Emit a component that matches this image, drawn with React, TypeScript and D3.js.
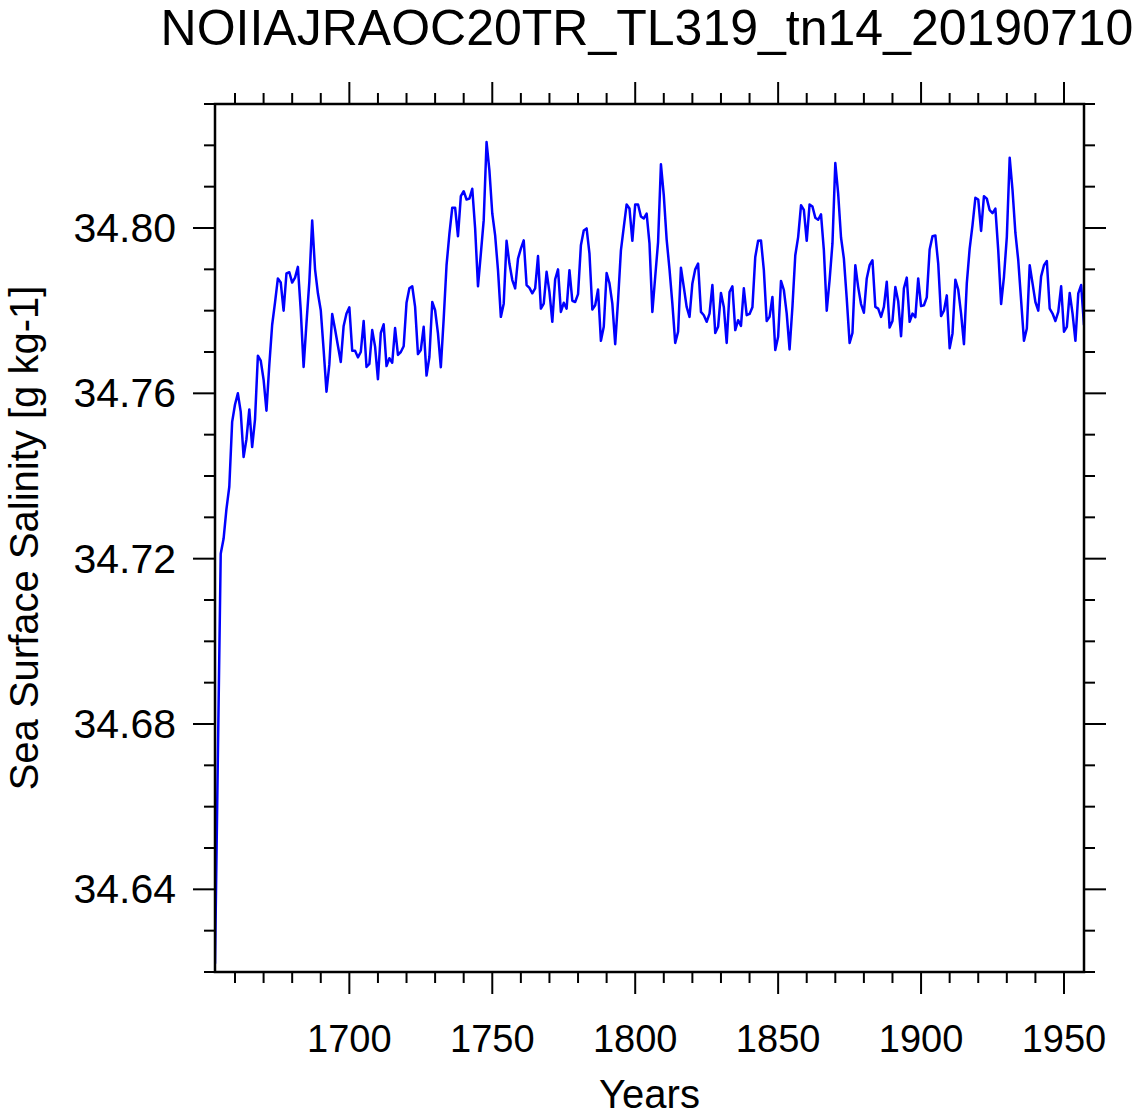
import React from 'react';
import * as d3 from 'd3';

// sea surface salinity, one value per model year starting at 1653
const startYear = 1653;
const salinity = [
  34.622, 34.672, 34.7212, 34.7248, 34.732, 34.7374, 34.7531,
  34.7573, 34.760, 34.7555, 34.7446, 34.7489, 34.7561, 34.747, 34.7537, 34.7691, 34.7679,
  34.7633, 34.7558, 34.7669, 34.7766, 34.782, 34.7878, 34.7868, 34.780, 34.789, 34.7893,
  34.7868, 34.788, 34.7906, 34.780, 34.7664, 34.777, 34.787, 34.8018, 34.790, 34.7842,
  34.7801, 34.7705, 34.7604, 34.767, 34.7792, 34.7755, 34.7715, 34.7676, 34.7763, 34.7793,
  34.7808, 34.7703, 34.7703, 34.7687, 34.770, 34.7775, 34.7664, 34.7671, 34.7753, 34.7713,
  34.7634, 34.7746, 34.7767, 34.7666, 34.7685, 34.7674, 34.7758, 34.7693, 34.770, 34.7714,
  34.7819, 34.7854, 34.7859, 34.7809, 34.7695, 34.7705, 34.7761, 34.7643, 34.7688, 34.7821,
  34.7801, 34.7745, 34.7663, 34.778, 34.791, 34.7986, 34.8049, 34.8049, 34.798, 34.8077,
  34.8089, 34.8069, 34.8071, 34.8095, 34.7999, 34.7859, 34.7938, 34.8019, 34.8208, 34.8139,
  34.8035, 34.7982, 34.7898, 34.7785, 34.7817, 34.7969, 34.7914, 34.7874, 34.7854, 34.7926,
  34.795, 34.797, 34.7862, 34.7855, 34.7842, 34.7854, 34.7932, 34.7805, 34.7817, 34.7894,
  34.7845, 34.7773, 34.7876, 34.790, 34.7797, 34.7819, 34.7805, 34.7898, 34.7824, 34.7821,
  34.784, 34.7958, 34.7994, 34.7999, 34.7938, 34.7803, 34.7813, 34.7851, 34.7727, 34.7761,
  34.7891, 34.7866, 34.7817, 34.7719, 34.7825, 34.7946, 34.8002, 34.8057, 34.8047, 34.7969,
  34.8057, 34.8057, 34.8028, 34.8023, 34.8035, 34.7962, 34.7797, 34.7882, 34.7966, 34.8154,
  34.8079, 34.7972, 34.790, 34.7817, 34.7722, 34.7749, 34.7904, 34.7857, 34.7809, 34.7785,
  34.7866, 34.790, 34.7914, 34.7797, 34.7789, 34.7773, 34.7793, 34.7862, 34.7746, 34.7761,
  34.7843, 34.7809, 34.7722, 34.7845, 34.7859, 34.7753, 34.7777, 34.7763, 34.7854, 34.7789,
  34.7792, 34.7808, 34.793, 34.7969, 34.797, 34.7898, 34.7775, 34.7785, 34.7833, 34.7705,
  34.7737, 34.7872, 34.785, 34.7793, 34.7706, 34.7809, 34.7934, 34.7978, 34.8055, 34.8044,
  34.7969, 34.8057, 34.8052, 34.8025, 34.802, 34.8033, 34.7946, 34.780, 34.7874, 34.7962,
  34.8157, 34.8083, 34.7977, 34.7926, 34.7829, 34.7722, 34.7746, 34.791, 34.7857, 34.7816,
  34.7795, 34.7878, 34.791, 34.7922, 34.7809, 34.7805, 34.7785, 34.7809, 34.787, 34.7759,
  34.7775, 34.7857, 34.7823, 34.7738, 34.7854, 34.788, 34.7773, 34.7793, 34.7784, 34.7878,
  34.7811, 34.7813, 34.7832, 34.7948, 34.798, 34.7982, 34.7914, 34.7787, 34.780, 34.7837,
  34.7709, 34.7745, 34.7875, 34.7851, 34.7793, 34.7719, 34.7866, 34.795, 34.8007, 34.8073,
  34.8069, 34.7993, 34.8077, 34.8071, 34.8043, 34.8036, 34.8047, 34.7946, 34.7816, 34.7882,
  34.7978, 34.817, 34.8091, 34.7988, 34.7922, 34.7825, 34.7727, 34.7757, 34.791, 34.7866,
  34.7821, 34.780, 34.7883, 34.791, 34.792, 34.7805, 34.7793, 34.7775, 34.7797, 34.7859,
  34.7749, 34.7761, 34.7843, 34.7793, 34.7727, 34.7842, 34.7862, 34.7765,
];

const xMajorTicks = [1700, 1750, 1800, 1850, 1900, 1950];
const yMajorTicks = [34.64, 34.68, 34.72, 34.76, 34.80];

const title = 'NOIIAJRAOC20TR_TL319_tn14_20190710';
const xTitle = 'Years';
const yTitle = 'Sea Surface Salinity [g kg-1]';

const W = 1136, H = 1117;
const L = 215, R = 1084, T = 104, B = 972;
const font = 'Liberation Sans, Arial, Helvetica, sans-serif';

export default function App() {
  const data = salinity.map((v, i) => ({year: startYear + i, v}));
  const x = d3.scaleLinear().domain([startYear, startYear + salinity.length - 1]).range([L, R]);
  const y = d3.scaleLinear().domain([34.62, 34.83]).range([B, T]);

  const line = d3.line<{year: number, v: number}>()
    .x(d => x(d.year))
    .y(d => y(d.v));

  const xMinor = d3.range(1660, 1960, 10).filter(d => !xMajorTicks.includes(d));
  const yMinor = d3.range(0, 22).map(i => +(34.62 + i * 0.01).toFixed(2))
    .filter(d => !yMajorTicks.some(m => Math.abs(m - d) < 1e-6));

  const major = 22, minor = 11;

  return (
    <svg width={W} height={H} style={{position: 'absolute', left: 0, top: 0, background: '#fff'}}
      fontFamily={font}>
      <text x={647} y={45} textAnchor="middle" fontSize={50}>{title}</text>

      <defs>
        <clipPath id="plot">
          <rect x={L} y={T} width={R - L} height={B - T} />
        </clipPath>
      </defs>
      <path d={line(data) || ''} fill="none" stroke="#0000ff" strokeWidth={2.5}
        strokeLinejoin="round" clipPath="url(#plot)" />

      <g stroke="#000" strokeWidth={2}>
        {xMajorTicks.map(d => (
          <g key={'xM' + d}>
            <line x1={x(d)} x2={x(d)} y1={B} y2={B + major} />
            <line x1={x(d)} x2={x(d)} y1={T} y2={T - major} />
          </g>
        ))}
        {xMinor.map(d => (
          <g key={'xm' + d}>
            <line x1={x(d)} x2={x(d)} y1={B} y2={B + minor} />
            <line x1={x(d)} x2={x(d)} y1={T} y2={T - minor} />
          </g>
        ))}
        {yMajorTicks.map(d => (
          <g key={'yM' + d}>
            <line x1={L} x2={L - major} y1={y(d)} y2={y(d)} />
            <line x1={R} x2={R + major} y1={y(d)} y2={y(d)} />
          </g>
        ))}
        {yMinor.map(d => (
          <g key={'ym' + d}>
            <line x1={L} x2={L - minor} y1={y(d)} y2={y(d)} />
            <line x1={R} x2={R + minor} y1={y(d)} y2={y(d)} />
          </g>
        ))}
      </g>
      <rect x={L} y={T} width={R - L} height={B - T} fill="none" stroke="#000" strokeWidth={2.5} />

      {xMajorTicks.map(d => (
        <text key={'xl' + d} x={x(d)} y={1052} textAnchor="middle" fontSize={38}>{d}</text>
      ))}
      {yMajorTicks.map(d => (
        <text key={'yl' + d} x={176} y={y(d)} textAnchor="end" dominantBaseline="central" fontSize={41}>
          {d.toFixed(2)}
        </text>
      ))}

      <text x={(L + R) / 2} y={1108} textAnchor="middle" fontSize={40}>{xTitle}</text>
      <text transform={`translate(38,${(T + B) / 2}) rotate(-90)`} textAnchor="middle" fontSize={40}>
        {yTitle}
      </text>
    </svg>
  );
}
